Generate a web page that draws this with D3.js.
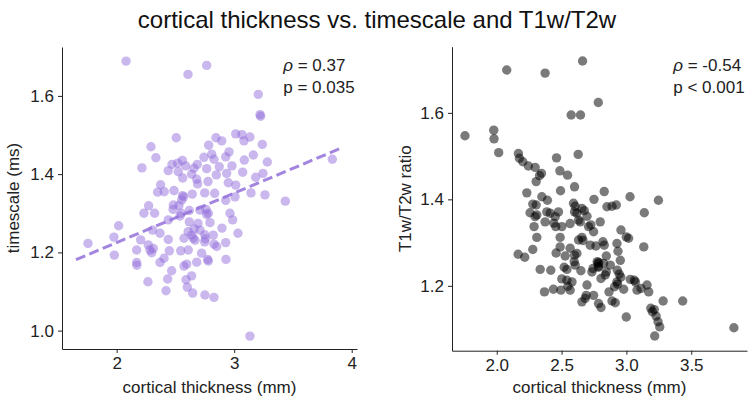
<!DOCTYPE html>
<html>
<head>
<meta charset="utf-8">
<script src="https://cdn.jsdelivr.net/npm/d3@7.9.0/dist/d3.min.js"></script>
<style>
  body { margin: 0; background: #fff; }
  svg { display: block; font-family: "Liberation Sans", Arial, sans-serif; }
</style>
</head>
<body>
<div id="chart"></div>
<script>
// cortical thickness (mm) vs timescale (ms)
const timescalePts = [
  [2.08,1.689],[2.607,1.655],[2.766,1.678],[3.205,1.604],[3.225,1.548],[3.22,1.552],[3.835,1.438],[3.435,1.331],
  [2.507,1.493],[2.292,1.470],[2.334,1.442],[2.215,1.416],[2.017,1.268],[2.845,1.493],[2.894,1.485],[2.783,1.474],
  [3.013,1.503],[3.066,1.501],[3.083,1.485],[3.134,1.495],[3.239,1.476],[3.163,1.449],[3.282,1.431],[3.086,1.436],
  [2.956,1.457],[2.928,1.444],[2.809,1.451],[2.743,1.443],[2.828,1.438],[2.559,1.435],[2.519,1.428],[2.471,1.425],
  [2.686,1.425],[2.587,1.421],[2.439,1.409],[2.524,1.406],[2.658,1.415],[2.766,1.414],[2.873,1.419],[2.981,1.421],
  [2.848,1.398],[2.936,1.402],[3.072,1.405],[3.245,1.402],[3.183,1.392],[2.638,1.400],[2.562,1.390],[2.681,1.387],
  [2.689,1.375],[2.777,1.381],[2.950,1.378],[3.013,1.372],[2.374,1.373],[2.349,1.354],[2.405,1.355],[2.488,1.358],
  [2.570,1.342],[2.643,1.349],[2.749,1.352],[2.834,1.351],[3.143,1.352],[3.262,1.347],[2.928,1.333],[3.007,1.342],
  [2.272,1.319],[2.482,1.321],[2.553,1.334],[2.232,1.300],[2.323,1.300],[2.439,1.283],[2.539,1.293],[2.618,1.307],
  [2.709,1.308],[2.766,1.297],[2.794,1.276],[2.692,1.274],[2.618,1.278],[2.964,1.300],[2.987,1.283],
  [1.756,1.223],[1.977,1.239],[1.980,1.193],[2.170,1.206],[2.170,1.174],[2.172,1.167],[2.204,1.232],[2.269,1.219],
  [2.283,1.206],[2.298,1.199],[2.312,1.210],[2.306,1.257],[2.369,1.249],[2.266,1.125],[2.369,1.174],[2.403,1.185],
  [2.439,1.233],[2.448,1.204],[2.468,1.153],[2.434,1.132],[2.420,1.102],[2.545,1.204],[2.609,1.206],[2.573,1.165],
  [2.596,1.170],[2.573,1.236],[2.638,1.244],[2.652,1.236],[2.667,1.231],[2.609,1.253],[2.681,1.175],[2.638,1.140],
  [2.590,1.130],[2.601,1.111],[2.647,1.096],[2.751,1.091],[2.828,1.085],[2.723,1.198],[2.774,1.182],[2.780,1.178],
  [2.749,1.227],[2.828,1.221],[2.851,1.215],[2.930,1.182],[2.928,1.225],[3.032,1.249],[3.134,0.986],[2.750,1.245],
  [2.755,1.235],[2.709,1.257],[2.822,1.244],[2.896,1.262],[2.560,1.345],[2.780,1.300],[2.760,1.310],[2.660,1.260],
  [2.550,1.300],[2.530,1.320],[2.480,1.310]
];

// regression line (endpoints in thickness, slope / intercept in ms)
const fitRange = [1.654, 3.923];
const fitSlope = 0.1265;
const fitIntercept = 0.972;

// cortical thickness (mm) vs T1w/T2w ratio
const ratioPts = [
  [1.755,1.547],[1.977,1.560],[1.979,1.540],[2.015,1.508],[2.077,1.699],[2.373,1.692],[2.662,1.720],[2.783,1.624],
  [2.574,1.595],[2.646,1.595],[2.167,1.506],[2.175,1.495],[2.201,1.487],[2.244,1.477],[2.296,1.474],[2.330,1.455],
  [2.345,1.460],[2.304,1.441],[2.461,1.496],[2.487,1.466],[2.546,1.456],[2.628,1.504],[2.600,1.429],[2.232,1.415],
  [2.492,1.420],[2.829,1.418],[2.750,1.400],[3.028,1.406],[3.247,1.398],[2.348,1.406],[2.391,1.398],
  [2.278,1.389],[2.304,1.387],[2.257,1.369],[2.296,1.360],[2.309,1.364],[2.288,1.337],[2.309,1.312],[2.278,1.284],
  [2.165,1.273],[2.216,1.266],[2.335,1.238],[2.417,1.236],[2.368,1.186],[2.437,1.192],[2.373,1.348],[2.386,1.371],
  [2.412,1.368],[2.440,1.345],[2.455,1.337],[2.451,1.360],[2.476,1.371],[2.489,1.312],[2.458,1.276],[2.528,1.269],
  [2.502,1.216],[2.495,1.190],[2.541,1.213],[2.549,1.199],[2.566,1.190],[2.580,1.209],[2.520,1.243],[2.541,1.238],
  [2.592,1.391],[2.605,1.384],[2.600,1.371],[2.618,1.368],[2.566,1.344],[2.631,1.352],[2.644,1.348],[2.657,1.312],
  [2.665,1.305],[2.631,1.306],[2.566,1.287],[2.600,1.271],[2.618,1.275],[2.597,1.256],[2.605,1.248],[2.649,1.235],
  [2.696,1.202],[2.690,1.178],[2.682,1.171],[2.657,1.163],[2.747,1.178],[2.785,1.159],[2.804,1.150],[2.708,1.337],
  [2.726,1.341],[2.747,1.325],[2.798,1.348],[2.765,1.292],[2.775,1.256],[2.780,1.252],[2.787,1.254],[2.783,1.245],
  [2.721,1.294],[2.742,1.240],[2.734,1.232],[2.785,1.243],[2.819,1.302],[2.829,1.294],[2.824,1.252],[2.845,1.269],
  [2.845,1.232],[2.837,1.225],[2.804,1.217],[2.876,1.248],[2.930,1.236],[2.945,1.227],[2.957,1.220],[2.953,1.259],
  [2.927,1.298],[2.935,1.280],[2.958,1.329],[2.999,1.313],[3.017,1.310],[2.927,1.209],[2.932,1.204],[2.909,1.198],
  [2.914,1.161],[2.889,1.165],[2.866,1.186],[2.979,1.192],[2.999,1.128],[3.030,1.215],[3.061,1.213],[3.069,1.209],
  [3.082,1.190],[3.113,1.194],[3.159,1.202],[3.172,1.186],[3.134,1.290],[3.138,1.369],[3.188,1.148],[3.200,1.140],
  [3.215,1.145],[3.229,1.130],[3.244,1.117],[3.257,1.105],[3.218,1.084],[3.283,1.165],[3.434,1.165],[3.829,1.103],
  [2.850,1.383],[2.889,1.384],[2.922,1.387],[2.657,1.379],[2.675,1.374],[2.696,1.361],[2.502,1.337],[2.489,1.290]
];

const leftXTicks = [2, 3, 4];
const leftYTicks = [1.0, 1.2, 1.4, 1.6];
const rightXTicks = [2.0, 2.5, 3.0, 3.5];
const rightYTicks = [1.2, 1.4, 1.6];

const stats = [["ρ", " = 0.37", "p = 0.035"], ["ρ", " = -0.54", "p < 0.001"]];

const W = 754, H = 404;
const svg = d3.select("#chart").append("svg")
  .attr("width", W).attr("height", H);

svg.append("text")
  .attr("x", 377).attr("y", 28)
  .attr("text-anchor", "middle")
  .style("font-size", "24px")
  .attr("fill", "#111")
  .text("cortical thickness vs. timescale and T1w/T2w");

function panel(o) {
  const x = d3.scaleLinear().domain(o.xDomain).range(o.xRange);
  const y = d3.scaleLinear().domain(o.yDomain).range(o.yRange);
  const g = svg.append("g");

  const xAxis = g.append("g")
    .attr("transform", `translate(0,${o.yRange[0]})`)
    .call(d3.axisBottom(x).tickValues(o.xTicks).tickFormat(d3.format(o.xFmt))
      .tickSize(4).tickSizeOuter(0).tickPadding(4));
  const yAxis = g.append("g")
    .attr("transform", `translate(${o.xRange[0]},0)`)
    .call(d3.axisLeft(y).tickValues(o.yTicks).tickFormat(d3.format(".1f"))
      .tickSize(4).tickSizeOuter(0).tickPadding(4));
  [xAxis, yAxis].forEach(a => {
    a.selectAll("text").style("font-size", "17px").attr("fill", "#222")
      .style("font-family", "Liberation Sans, Arial, sans-serif");
    a.selectAll("line,path").attr("stroke", "#222").attr("stroke-width", 1);
  });

  g.selectAll("circle.pt")
    .data(o.pts)
    .enter().append("circle")
      .attr("class", "pt")
      .attr("cx", d => x(d[0]))
      .attr("cy", d => y(d[1]))
      .attr("r", 4.7)
      .attr("fill", o.color)
      .attr("fill-opacity", o.alpha);

  if (o.fit) {
    const line = d3.line().x(d => x(d)).y(d => y(o.fit.intercept + o.fit.slope * d));
    g.append("path")
      .datum(o.fit.range)
      .attr("d", line)
      .attr("fill", "none")
      .attr("stroke", o.color)
      .attr("stroke-opacity", 0.85)
      .attr("stroke-width", 3)
      .attr("stroke-dasharray", "10,4.5");
  }

  // x label
  g.append("text")
    .attr("x", (o.xRange[0] + o.xRange[1]) / 2)
    .attr("y", 393)
    .attr("text-anchor", "middle")
    .style("font-size", "17px").attr("fill", "#222")
    .text("cortical thickness (mm)");
  // y label
  g.append("text")
    .attr("transform", `translate(${o.yLabelX},${(o.yRange[0] + o.yRange[1]) / 2}) rotate(-90)`)
    .attr("text-anchor", "middle")
    .style("font-size", "17px").attr("fill", "#222")
    .text(o.yLabel);

  // stats annotation
  const tx = o.xRange[0] + 0.75 * (o.xRange[1] - o.xRange[0]);
  const t1 = g.append("text").attr("x", tx).attr("y", 71)
    .style("font-size", "17px").attr("fill", "#222");
  t1.append("tspan").style("font-style", "italic").text(o.stat[0]);
  t1.append("tspan").text(o.stat[1]);
  g.append("text").attr("x", tx).attr("y", 93)
    .style("font-size", "17px").attr("fill", "#222")
    .text(o.stat[2]);
}

panel({
  pts: timescalePts,
  xDomain: [1.535, 4.045], xRange: [62, 357],
  yDomain: [0.953, 1.725], yRange: [349, 47],
  xTicks: leftXTicks, xFmt: "d", yTicks: leftYTicks,
  color: "#9370db", alpha: 0.5,
  fit: { range: fitRange, slope: fitSlope, intercept: fitIntercept },
  yLabel: "timescale (ms)", yLabelX: 19,
  stat: stats[0]
});

panel({
  pts: ratioPts,
  xDomain: [1.655, 3.93], xRange: [452, 747],
  yDomain: [1.05, 1.753], yRange: [350.7, 46.7],
  xTicks: rightXTicks, xFmt: ".1f", yTicks: rightYTicks,
  color: "#000", alpha: 0.52,
  fit: null,
  yLabel: "T1w/T2w ratio", yLabelX: 411,
  stat: stats[1]
});
</script>
</body>
</html>
